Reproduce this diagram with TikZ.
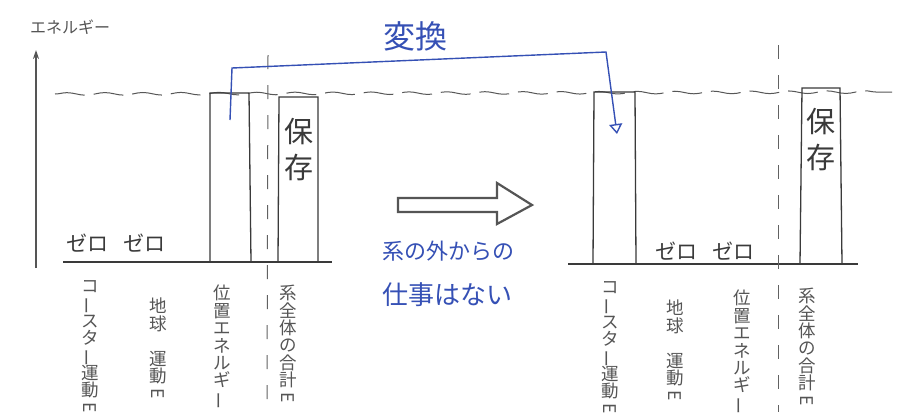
\documentclass[tikz,border=0pt]{standalone}
\usepackage{fontspec}
\usepackage{graphicx}
\newfontfamily\jp{Noto Sans CJK JP}
\usetikzlibrary{arrows.meta,decorations.pathmorphing}
\definecolor{ink}{HTML}{3A3A3A}
\definecolor{lbl}{HTML}{555555}
\definecolor{pen}{HTML}{3550B5}
\newcommand{\myvbar}{\rotatebox[origin=c]{90}{ー}}
\newcommand{\myE}{\rotatebox[origin=c]{-90}{E}}
\newcommand{\tightlines}{\lineskiplimit-100pt\relax\lineskip0pt\relax}
\tikzset{
  vlab/.style={anchor=north, align=center, text=lbl, inner sep=0pt,
    font=\jp\fontsize{17.5}{17.4}\selectfont\tightlines},
  barline/.style={draw=ink, line width=1.3pt},
  baseln/.style={draw=ink, line width=1.4pt},
  divline/.style={draw=ink!80, line width=1pt, dash pattern=on 14pt off 16pt},
  hand/.style={text=ink, inner sep=0pt, font=\jp\fontsize{21}{22}\selectfont},
  keep/.style={text=ink, inner sep=0pt, align=center,
    font=\jp\fontsize{29}{36}\selectfont\tightlines},
  bluetext/.style={text=pen, inner sep=0pt},
}
\begin{document}
\begin{tikzpicture}[x=1pt,y=-1pt]
\useasboundingbox[fill=white] (0,0) rectangle (899,418);

% energy axis
\node[text=lbl, font=\jp\fontsize{16}{18}\selectfont, inner sep=0pt] (ylab) at (70,27) {エネルギー};
\coordinate (ax0) at (36,268);
\coordinate (ax1) at (36,50);
\draw[lbl, line width=1.6pt, -{Stealth[length=9pt,width=6pt]}] (ax0) -- (ax1);

% dashed wavy level line
\coordinate (wl) at (55,94);
\coordinate (wr) at (892,92);
\draw[ink!85, line width=1pt, dash pattern=on 30pt off 9pt, decorate,
  decoration={snake, amplitude=1.3pt, segment length=38pt}] (wl) -- (wr);

% ---- left state ----
\draw[baseln] (63,262) -- (332,262);
\draw[barline] (210,262) -- (210,93) -- (249,93) -- (251,262);
\draw[barline] (278,262) -- (279,97) -- (318,97) -- (318,262);
\draw[divline] (268,55) -- (267,412);
\node[hand] (z1) at (116,243) {ゼロ\hspace{0.7em}ゼロ};
\node[keep] (k1) at (299,150) {保\\存};

\node[vlab] (l1) at (90,280) {コ\\\myvbar\\ス\\タ\\\myvbar\\運\\動\\\myE};
\node[vlab] (l2) at (158,298) {地\\球\\[17.4pt]運\\動\\\myE};
\node[vlab] (l3) at (222,285) {位\\置\\エ\\ネ\\ル\\ギ\\\myvbar};
\node[vlab] (l4) at (288,285) {系\\全\\体\\の\\合\\計\\\myE};

% ---- right state ----
\draw[baseln] (568,264) -- (858,264);
\draw[barline] (593,264) -- (594,92) -- (635,92) -- (636,264);
\draw[barline] (800,264) -- (802,88) -- (840,88) -- (842,264);
\draw[divline] (778,45) -- (778,412);
\node[hand] (z2) at (705,251) {ゼロ\hspace{0.7em}ゼロ};
\node[keep] (k2) at (821,140) {保\\存};

\node[vlab] (r1) at (610,281) {コ\\\myvbar\\ス\\タ\\\myvbar\\運\\動\\\myE};
\node[vlab] (r2) at (675,300) {地\\球\\[17.4pt]運\\動\\\myE};
\node[vlab] (r3) at (742,290) {位\\置\\エ\\ネ\\ル\\ギ\\\myvbar};
\node[vlab] (r4) at (807,288) {系\\全\\体\\の\\合\\計\\\myE};

% ---- conversion bracket ----
\node[bluetext, font=\jp\fontsize{32}{36}\selectfont] (conv) at (415,36) {変換};
\coordinate (bs) at (230,120);
\coordinate (bt1) at (232,68);
\coordinate (bt2) at (606,52);
\coordinate (be) at (617,134);
\draw[pen, line width=1.4pt, -{Triangle[open, length=10pt, width=13pt]}]
  (bs) -- (bt1) -- (bt2) -- (be);

% ---- hollow arrow ----
\draw[lbl, line width=2.2pt, line join=miter]
  (398,198) -- (497,198) -- (497,183) -- (532,205) -- (497,224) -- (497,212) -- (398,212) -- cycle;

% ---- no external work ----
\node[bluetext, anchor=west, font=\jp\fontsize{22}{24}\selectfont] (w1) at (382,251) {系の外からの};
\node[bluetext, anchor=west, font=\jp\fontsize{26}{28}\selectfont] (w2) at (382,295) {仕事はない};
\end{tikzpicture}
\end{document}
